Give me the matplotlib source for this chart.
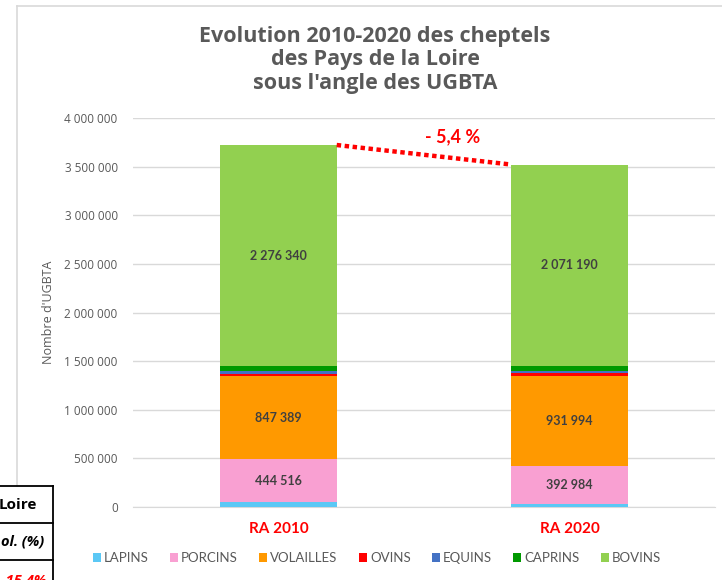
import matplotlib
matplotlib.use("Agg")
import matplotlib.pyplot as plt
from matplotlib.lines import Line2D
from matplotlib.patches import Patch
import numpy as np

categories = ["RA 2010", "RA 2020"]
series_names = ["LAPINS", "PORCINS", "VOLAILLES", "OVINS", "EQUINS", "CAPRINS", "BOVINS"]
lapins = [50000, 27000]
porcins = [444516, 392984]
volailles = [847389, 931994]
ovins = [30000, 25000]
equins = [25000, 18000]
caprins = [49000, 55000]
bovins = [2276340, 2071190]
labelled = {"PORCINS": ["444 516", "392 984"],
            "VOLAILLES": ["847 389", "931 994"],
            "BOVINS": ["2 276 340", "2 071 190"]}
yticks = [0, 500000, 1000000, 1500000, 2000000, 2500000, 3000000, 3500000, 4000000]
ytick_labels = ["0", "500 000", "1 000 000", "1 500 000", "2 000 000", "2 500 000",
                "3 000 000", "3 500 000", "4 000 000"]
evolution_label = "- 5,4 %"
colors = ["#5BC8F5", "#F9A0D2", "#FF9900", "#FF0000", "#4472C4", "#009900", "#92D050"]

plt.rcParams['font.family'] = ['Lato', 'DejaVu Sans']
grey = "#595959"

fig = plt.figure(figsize=(7.22, 5.80), dpi=100)
W, H = 722, 580
ax = fig.add_axes([133 / W, 1 - 507 / H, (715 - 133) / W, (507 - 118) / H])

values = [lapins, porcins, volailles, ovins, equins, caprins, bovins]
x = np.arange(len(categories))
bw = 0.4
bottom = np.zeros(len(categories))
for name, vals, c in zip(series_names, values, colors):
    vals = np.array(vals, dtype=float)
    ax.bar(x, vals, bw, bottom=bottom, color=c, zorder=3, linewidth=0)
    if name in labelled:
        for i in range(len(x)):
            ax.text(x[i], bottom[i] + vals[i] / 2, labelled[name][i], ha='center', va='center',
                    fontsize=9, fontweight='bold', color="#404040", zorder=4)
    bottom += vals

totals = bottom
ax.plot([x[0] + bw / 2, x[1] - bw / 2], [totals[0], totals[1]], color="#FF0000",
        linestyle=(0, (1, 0.8)), linewidth=3.2, zorder=5)
ax.text(0.598, 3.81e6, evolution_label, color="#FF0000", fontsize=13, fontweight='bold',
        ha='center', va='center')

ax.set_xlim(-0.5, 1.5)
ax.set_ylim(0, 4000000)
ax.set_yticks(yticks)
ax.set_yticklabels(ytick_labels, fontsize=8.5, color=grey, family=['Open Sans', 'DejaVu Sans'])
ax.set_xticks(x)
ax.set_xticklabels(categories, fontsize=11, fontweight='bold', color="#FF0000")
ax.tick_params(axis='both', length=0)
ax.tick_params(axis='y', pad=11)
ax.tick_params(axis='x', pad=11)
ax.grid(axis='y', color="#D9D9D9", linewidth=1, zorder=0)
for s in ['top', 'right', 'left']:
    ax.spines[s].set_visible(False)
ax.spines['bottom'].set_color("#D9D9D9")
ax.spines['bottom'].set_zorder(1)
ax.set_ylabel("Nombre d'UGBTA", fontsize=9, color=grey, family=['Open Sans', 'DejaVu Sans'])
ax.yaxis.set_label_coords((55 - 133) / (715 - 133), 0.5)

fig.text(375 / W, 1 - 60 / H, "Evolution 2010-2020 des cheptels\ndes Pays de la Loire\nsous l'angle des UGBTA",
         ha='center', va='center', fontsize=15.5, fontweight='bold', color=grey, linespacing=1.18,
         family=['Open Sans', 'DejaVu Sans'])

handles = [Patch(facecolor=c, edgecolor='none') for c in colors]
leg = fig.legend(handles, series_names, loc='center', bbox_to_anchor=(377 / W, 1 - 558 / H),
                 ncol=7, frameon=False, fontsize=9.5, handlelength=0.6, handleheight=0.6,
                 handletextpad=0.25, columnspacing=1.6, labelcolor=grey)

# outer chart frame (partially visible)
fig.add_artist(Line2D([17 / W, 17 / W], [1 - 486 / H, 1 - 6 / H], transform=fig.transFigure,
                      color="#D9D9D9", linewidth=1.2))
fig.add_artist(Line2D([17 / W, 1.0], [1 - 6 / H, 1 - 6 / H], transform=fig.transFigure,
                      color="#D9D9D9", linewidth=1.2))

# table fragment bottom-left
for yy in [486, 523, 560]:
    fig.add_artist(Line2D([0, 53 / W], [1 - yy / H, 1 - yy / H], transform=fig.transFigure,
                          color="black", linewidth=1.3))
fig.add_artist(Line2D([53 / W, 53 / W], [0, 1 - 486 / H], transform=fig.transFigure,
                      color="black", linewidth=1.3))
fig.text(37 / W, 1 - 505 / H, "Loire", ha='right', va='center', fontsize=11,
         fontweight='bold', color="black", family=['Open Sans', 'DejaVu Sans'])
fig.text(44 / W, 1 - 541 / H, "ol. (%)", ha='right', va='center', fontsize=10.5,
         fontweight='bold', style='italic', color="black", family=['Open Sans', 'DejaVu Sans'])
fig.text(47 / W, 1 - 581 / H, "-15,4%", ha='right', va='center', fontsize=10.5,
         fontweight='bold', style='italic', color="#FF0000", family=['Open Sans', 'DejaVu Sans'])

fig.savefig("out.png", dpi=100)
